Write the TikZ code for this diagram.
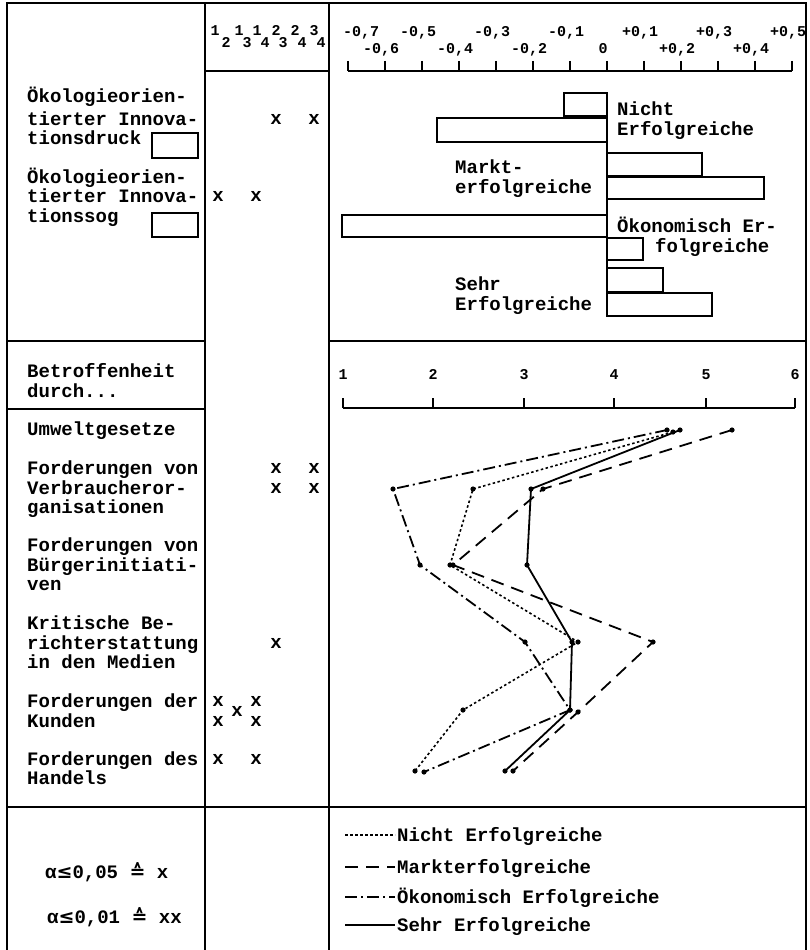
\documentclass[tikz,border=0pt]{standalone}
\usepackage{fontspec}
\setmainfont{Liberation Mono}
\newfontfamily\djv{DejaVu Sans}
\begin{document}
\begin{tikzpicture}[x=1pt,y=-1pt,
  txt/.style={anchor=base west,inner sep=0pt,font=\fontsize{19}{19}\selectfont\bfseries},
  axl/.style={anchor=base,inner sep=0pt,font=\fontsize{15}{15}\selectfont\bfseries},
  dig/.style={anchor=base,inner sep=0pt,font=\fontsize{15}{15}\selectfont\bfseries},
  xm/.style={anchor=base,inner sep=0pt,font=\fontsize{19}{19}\selectfont\bfseries},
  frame/.style={line width=2pt},
  bar/.style={draw,line width=1.8pt,fill=white},
  nichtl/.style={line width=1.6pt,dash pattern=on 2.5pt off 2.5pt},
  marktl/.style={line width=1.8pt,dash pattern=on 13pt off 8pt},
  oekol/.style={line width=1.8pt,dash pattern=on 12pt off 4pt on 2pt off 4pt},
  sehrl/.style={line width=1.8pt}
]
\useasboundingbox (0,0) rectangle (809,950);
% ---------- frame
\draw[frame] (7,950) -- (7,3) -- (806,3) -- (806,950);
\draw[frame] (205,3) -- (205,950);
\draw[frame] (329,3) -- (329,950);
\draw[frame] (205,71) -- (329,71);
\draw[frame] (7,341) -- (205,341);
\draw[frame] (329,341) -- (806,341);
\draw[frame] (7,409) -- (205,409);
\draw[frame] (7,807) -- (806,807);
% ---------- header digits
\foreach \a/\b/\xa/\xb [count=\i] in {1/2/215/226,1/3/239/247,1/4/257/265,2/3/276/283,2/4/295/302,3/4/314/321}{
  \node[dig] (ht\i) at (\xa,36) {\a};
  \node[dig] (hb\i) at (\xb,47.5) {\b};
}
% ---------- top axis
\draw[line width=1.8pt] (348,71) -- (792,71);
\foreach \i in {-7,...,5}{\draw[line width=1.8pt] ({607+37*\i},61) -- ({607+37*\i},71);}
\node[axl] (tlm7) at (361,37) {-0,7};
\foreach \i/\t in {-5/-0{,}5,-3/-0{,}3,-1/-0{,}1,1/+0{,}1,3/+0{,}3,5/+0{,}5}{
  \node[axl] (tl\i) at ({607+37*\i-4},37) {\t};}
\foreach \i/\t in {-6/-0{,}6,-4/-0{,}4,-2/-0{,}2,0/0,2/+0{,}2,4/+0{,}4}{
  \node[axl] (bl\i) at ({607+37*\i-4},53) {\t};}
% ---------- left labels top
\node[txt] (o1a) at (27,102) {Ökologieorien-};
\node[txt] (o1b) at (27,125) {tierter Innova-};
\node[txt] (o1c) at (27,144) {tionsdruck};
\draw[line width=1.8pt] (152,133) rectangle (198,158);
\node[txt] (o2a) at (27,183) {Ökologieorien-};
\node[txt] (o2b) at (27,202) {tierter Innova-};
\node[txt] (o2c) at (27,222) {tionssog};
\draw[line width=1.8pt] (152,213) rectangle (198,237);
% ---------- bars
\draw[bar] (564,93) rectangle (607,116);
\draw[bar] (437,118) rectangle (607,142);
\draw[bar] (607,153) rectangle (702,176);
\draw[bar] (607,177) rectangle (764,199);
\draw[bar] (342,215) rectangle (607,237);
\draw[bar] (607,238) rectangle (643,260);
\draw[bar] (607,268) rectangle (663,292);
\draw[bar] (607,293) rectangle (712,316);
\draw[line width=1.8pt] (607,93) -- (607,316);
\node[txt] (b1a) at (617,115) {Nicht};
\node[txt] (b1b) at (617,135) {Erfolgreiche};
\node[txt] (b2a) at (455,173) {Markt-};
\node[txt] (b2b) at (455,193) {erfolgreiche};
\node[txt] (b3a) at (617,232) {Ökonomisch Er-};
\node[txt] (b3b) at (655,252) {folgreiche};
\node[txt] (b4a) at (455,290) {Sehr};
\node[txt] (b4b) at (455,310) {Erfolgreiche};
% ---------- x marks
\foreach \x/\y [count=\i] in {276/120,314/120,218/197,256/197,276/469,314/469,276/489,314/489,276/644,218/702,256/702,237/712,218/722,256/722,218/760,256/760}{
  \node[xm] (x\i) at (\x,\y+4) {x};}
% ---------- left labels bottom
\node[txt] (bt1) at (27,377) {Betroffenheit};
\node[txt] (bt2) at (27,397) {durch...};
\node[txt] (r1) at (27,435) {Umweltgesetze};
\node[txt] (r2a) at (27,474) {Forderungen von};
\node[txt] (r2b) at (27,494) {Verbraucheror-};
\node[txt] (r2c) at (27,513) {ganisationen};
\node[txt] (r3a) at (27,551) {Forderungen von};
\node[txt] (r3b) at (27,571) {Bürgerinitiati-};
\node[txt] (r3c) at (27,590) {ven};
\node[txt] (r4a) at (27,629) {Kritische Be-};
\node[txt] (r4b) at (27,649) {richterstattung};
\node[txt] (r4c) at (27,668) {in den Medien};
\node[txt] (r5a) at (27,707) {Forderungen der};
\node[txt] (r5b) at (27,727) {Kunden};
\node[txt] (r6a) at (27,765) {Forderungen des};
\node[txt] (r6b) at (27,784) {Handels};
% ---------- line chart axis
\draw[line width=1.8pt] (343,408) -- (795,408);
\foreach \x [count=\i] in {343,433,524,614,706,795}{
  \draw[line width=1.8pt] (\x,398) -- (\x,408);
  \node[axl] (ca\i) at (\x,379) {\i};}
% ---------- lines
\draw[nichtl] (673,432) -- (473,489) -- (450,565) -- (578,642) -- (463,710) -- (415,771);
\draw[marktl] (732,430) -- (543,489) -- (453,565) -- (653,642) -- (578,712) -- (513,771);
\draw[oekol] (667,430) -- (393,489) -- (420,565) -- (525,642) -- (570,710) -- (424,772);
\draw[sehrl] (680,430) -- (531,489) -- (527,565) -- (572,642) -- (570,710) -- (505,771);
\foreach \p in {(673,432),(473,489),(450,565),(578,642),(463,710),(415,771),
  (732,430),(543,489),(453,565),(653,642),(578,712),(513,771),
  (667,430),(393,489),(420,565),(525,642),(570,710),(424,772),
  (680,430),(531,489),(527,565),(572,642),(570,710),(505,771)}{
  \fill \p circle (2.6pt);}
% ---------- legend
\draw[nichtl] (345,835) -- (395,835);
\draw[marktl] (345,867) -- (395,867);
\draw[oekol] (345,897) -- (395,897);
\draw[sehrl] (345,925) -- (395,925);
\node[txt] (l1) at (397,841) {Nicht Erfolgreiche};
\node[txt] (l2) at (397,873) {Markterfolgreiche};
\node[txt] (l3) at (397,903) {Ökonomisch Erfolgreiche};
\node[txt] (l4) at (397,931) {Sehr Erfolgreiche};
% ---------- significance
\node[txt] (s1) at (45,878) {α{\djv≤}0,05 {\djv≙} x};
\node[txt] (s2) at (47,923) {α{\djv≤}0,01 {\djv≙} xx};
\end{tikzpicture}
\end{document}
